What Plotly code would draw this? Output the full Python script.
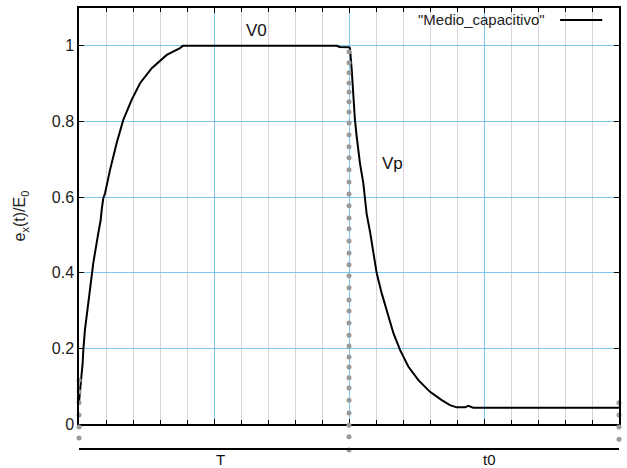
import plotly.graph_objects as go

# ---- data ----
curve_x = [0.000, 0.007, 0.015, 0.027, 0.032, 0.044, 0.069, 0.094, 0.106, 0.143,
           0.161, 0.168, 0.180, 0.193, 0.230, 0.279, 0.328, 0.390, 0.452, 0.539,
           0.650, 0.748, 0.770, 1.911, 1.930, 2.000, 2.007, 2.020, 2.027, 2.037,
           2.044, 2.057, 2.081, 2.106, 2.131, 2.156, 2.178, 2.205, 2.242, 2.291,
           2.329, 2.378, 2.439, 2.514, 2.600, 2.687, 2.748, 2.798, 2.859, 2.884,
           2.920, 4.000]
curve_y = [0.058, 0.082, 0.124, 0.161, 0.196, 0.249, 0.320, 0.399, 0.426, 0.505,
           0.540, 0.566, 0.597, 0.610, 0.672, 0.743, 0.804, 0.857, 0.901, 0.941,
           0.976, 0.994, 1.000, 1.000, 0.997, 0.996, 0.994, 0.937, 0.888, 0.822,
           0.804, 0.760, 0.690, 0.637, 0.555, 0.508, 0.460, 0.399, 0.346, 0.284,
           0.240, 0.196, 0.152, 0.116, 0.085, 0.063, 0.050, 0.044, 0.044, 0.048,
           0.043, 0.043]

dots0_y = [0.116, 0.085, 0.056, 0.024, -0.008, -0.037]
dots2_y = [0.984, 0.955, 0.929, 0.902, 0.878, 0.852, 0.825, 0.796, 0.765, 0.733,
           0.704, 0.672, 0.640, 0.608, 0.577, 0.545, 0.516, 0.484, 0.452, 0.421,
           0.392, 0.360, 0.328, 0.299, 0.267, 0.235, 0.206, 0.177, 0.151, 0.122,
           0.095, 0.063, 0.029, -0.003, -0.034, -0.069]
dots4_y = [0.056, 0.024, -0.008, -0.040]
dots_pos = [0, 2, 4]

y_ticks = [0, 0.2, 0.4, 0.6, 0.8, 1.0]
y_ticktext = ["0", "0.2", "0.4", "0.6", "0.8", "1"]

series_name = '"Medio_capacitivo"'
labels = {"V0": (1.315, 1.04), "Vp": (2.32, 0.69)}
bottom_labels = {"T": 1.05, "t0": 3.04}

FONT = "Liberation Sans, Arial, sans-serif"
BLUE = "#7cc6ef"
PINK = "#dfd0df"
GRAY = "#9a9a9a"

# layout geometry (pixels)
H, TOP, BOT = 468, 8, 0
plot_h = H - TOP - BOT
axis_px = 424           # pixel row of y = 0
main_bottom = (H - BOT - axis_px) / plot_h
unit_px = 378.2         # pixels per y unit
strip_span = (H - BOT - axis_px) / unit_px


def py_to_paper(py):
    return (H - BOT - py) / plot_h


dx, dy = [], []
for pos, ys in zip(dots_pos, [dots0_y, dots2_y, dots4_y]):
    dx += [pos] * len(ys)
    dy += ys

fig = go.Figure()
fig.add_trace(go.Scatter(x=curve_x, y=curve_y, mode="lines",
                         line=dict(color="black", width=2), name=series_name,
                         showlegend=False, xaxis="x", yaxis="y"))
for xa, ya in (("x", "y"), ("x2", "y2")):
    fig.add_trace(go.Scatter(x=dx, y=dy, mode="markers", cliponaxis=False,
                             marker=dict(color=GRAY, size=5), showlegend=False,
                             xaxis=xa, yaxis=ya))

fig.update_layout(
    template="none",
    width=627, height=H,
    margin=dict(l=79, r=8, t=TOP, b=BOT, pad=0, autoexpand=False),
    plot_bgcolor="white", paper_bgcolor="white",
    font=dict(family=FONT, size=16, color="#222"),
    showlegend=False,
    xaxis=dict(
        range=[0, 4], tick0=0, dtick=1, showticklabels=False, anchor="y",
        automargin=False,
        showgrid=True, gridcolor=BLUE, gridwidth=1, zeroline=False,
        ticks="inside", ticklen=5, tickcolor="black",
        showline=True, linecolor="black", linewidth=1.5, mirror="ticks",
        minor=dict(dtick=0.2, showgrid=True, gridcolor=PINK, gridwidth=1,
                   ticks="inside", ticklen=4, tickcolor="black"),
    ),
    yaxis=dict(
        domain=[main_bottom, 1], range=[0, 1.1], tickvals=y_ticks,
        ticktext=y_ticktext, anchor="x", automargin=False,
        showgrid=True, gridcolor=BLUE, gridwidth=1, zeroline=False,
        ticks="inside", ticklen=5, tickcolor="black",
        showline=True, linecolor="black", linewidth=1.5, mirror="ticks",
        tickfont=dict(size=16, color="#222"),
        title=dict(text="e<sub>x</sub>(t)/E<sub>0</sub>",
                   font=dict(size=16, color="#222"), standoff=22),
    ),
    xaxis2=dict(matches="x", anchor="y2", visible=False, automargin=False,
                showgrid=False),
    yaxis2=dict(domain=[0, main_bottom], range=[-strip_span, 0], anchor="x2",
                visible=False, automargin=False, showgrid=False),
)

for txt, (x, y) in labels.items():
    fig.add_annotation(x=x, y=y, xref="x", yref="y", text=txt, showarrow=False,
                       font=dict(size=17, color="#111"))
for txt, x in bottom_labels.items():
    fig.add_annotation(x=x, y=py_to_paper(459), xref="x", yref="paper", text=txt,
                       showarrow=False, font=dict(size=15, color="#111"),
                       yanchor="middle")

# legend (text then line sample, gnuplot style)
fig.add_annotation(x=0.867, y=py_to_paper(20), xref="paper", yref="paper",
                   text=series_name, showarrow=False, xanchor="right",
                   yanchor="middle", font=dict(size=15, color="#222"))
fig.add_shape(type="line", xref="paper", yref="paper", x0=0.891, x1=0.969,
              y0=py_to_paper(20), y1=py_to_paper(20),
              line=dict(color="black", width=2))
# bottom baseline
fig.add_shape(type="line", xref="x domain", yref="paper", x0=0, x1=1,
              y0=py_to_paper(449), y1=py_to_paper(449),
              line=dict(color="black", width=2))

fig.write_html("out.html")
